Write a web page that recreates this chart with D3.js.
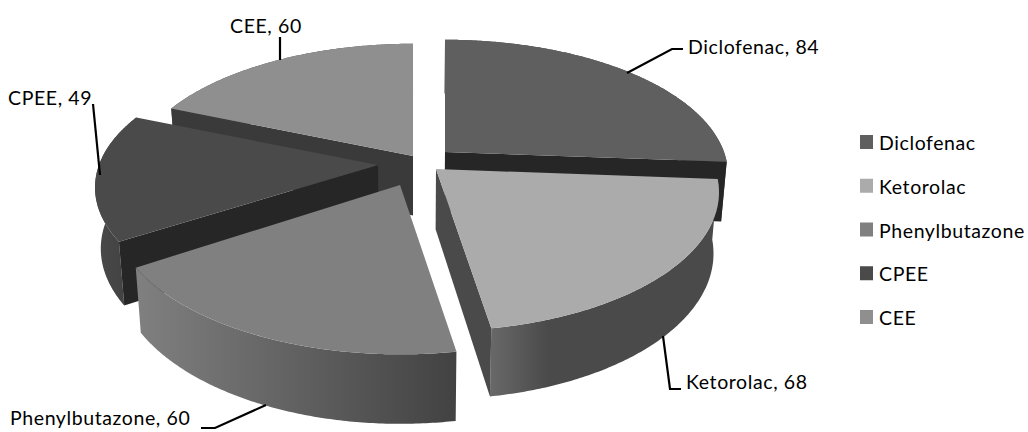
<!DOCTYPE html>
<html><head><meta charset="utf-8">
<script src="https://cdn.jsdelivr.net/npm/d3@7"></script>
<style>html,body{margin:0;padding:0;background:#fff}svg{display:block}text{font-family:Lato,"Open Sans",sans-serif;fill:#000;letter-spacing:.6px}</style>
</head><body><svg id="c" width="1028" height="432"></svg>
<script>
const names = ["Diclofenac","Ketorolac","Phenylbutazone","CPEE","CEE"];
const values = [84,68,60,49,60];
const topColors = ["#5f5f5f","#ababab","#808080","#4a4a4a","#8f8f8f"];
const cutColors = ["#262626","#4a4a4a","#3c3c3c","#262626","#3a3a3a"];
const cutSide = ["endAngle","endAngle",null,"startAngle","startAngle"];
const wallStart = ["#4a4a4a","#4a4a4a","#808080","#4a4a4a","#555555"];
const wallEnd   = ["#404040","#686868","#424242","#404040","#555555"];
// apex and scale of each exploded slice
const apexX = [445,436,400,378,413];
const apexY = [152,169,185,165,156];
const scaleX = [1,1,1.02,1,1];
const scaleY = [1,1.03,1.077,1,1];
const labelX = [688,686,10,8,230];
const labelY = [54,389,425,105,33];
const leaders = [
  [[627,73],[672,49],[683,49]],
  [[663,336],[670,389],[681,389]],
  [[266,405],[215,428],[201,428]],
  [[93,104],[100,175]],
  [[280,37],[280,60]]
];
const svg = d3.select("#c");
const defs = svg.append("defs");
const rx = d3.scaleLinear().domain([0,1]).range([0,279]);
const ry = d3.scaleLinear().domain([0,1]).range([0,131]);
const persp = 0.167;
const arcs = d3.pie().sort(null)(values);
const line = d3.line();
function project(i,a,r){
  const s = Math.sin(a)*r, t = -Math.cos(a)*r, d = 1-persp*t;
  return [apexX[i]+scaleX[i]*rx(s/d), apexY[i]+scaleY[i]*ry(t/d)];
}
function drop(p){
  const vp = 415;
  return [vp+(p[0]-vp)*0.982, p[1]+60+(p[1]-165)*0.05];
}
function arcPts(i,a0,a1){
  const n = Math.max(2,Math.ceil(Math.abs(a1-a0)/0.01));
  return d3.range(n+1).map(k=>project(i,a0+(a1-a0)*k/n,1));
}
const order = [4,3,0,2,1];
order.forEach(i=>{
  const d = arcs[i];
  const g = svg.append("g");
  const pts = arcPts(i,d.startAngle,d.endAngle);
  const id = "w"+i;
  const xs = pts.map(p=>p[0]);
  const grad = defs.append("linearGradient").attr("id",id).attr("gradientUnits","userSpaceOnUse")
    .attr("x1",d3.min(xs)).attr("x2",d3.max(xs)).attr("y1",0).attr("y2",0);
  grad.append("stop").attr("offset",0).attr("stop-color", i===1?wallEnd[i]:wallStart[i]);
  grad.append("stop").attr("offset",i===1?0.25:1).attr("stop-color", i===1?wallStart[i]:wallEnd[i]);
  // outer wall
  g.append("path").attr("d",line(pts.concat(pts.map(drop).reverse()))+"Z").attr("fill",`url(#${id})`);
  // visible cut face
  const apex = project(i,0,0);
  if (cutSide[i]) {
    const e = project(i,d[cutSide[i]],1);
    g.append("path").attr("d",line([apex,e,drop(e),drop(apex)])+"Z").attr("fill",cutColors[i]);
  }
  // top
  g.append("path").attr("d",line([apex].concat(pts))+"Z").attr("fill",topColors[i]);
});
// leaders
svg.append("g").selectAll("path").data(leaders).join("path")
  .attr("d",d=>line(d)).attr("fill","none").attr("stroke","#000").attr("stroke-width",2.2);
// labels
svg.append("g").selectAll("text").data(names).join("text")
  .attr("x",(d,i)=>labelX[i]).attr("y",(d,i)=>labelY[i]).attr("font-size",19.5)
  .text((d,i)=>`${d}, ${values[i]}`);
// legend
const ly = d3.scalePoint().domain(names).range([135,310]);
const leg = svg.append("g").selectAll("g").data(names).join("g")
  .attr("transform",d=>`translate(860,${ly(d)})`);
leg.append("rect").attr("width",13).attr("height",14).attr("fill",(d,i)=>topColors[i]);
leg.append("text").attr("x",19).attr("y",15).attr("font-size",19.5).text(d=>d);
</script></body></html>
